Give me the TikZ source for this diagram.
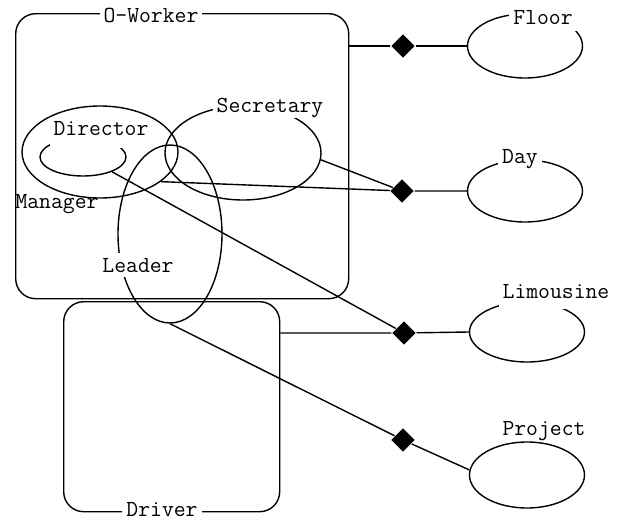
\documentclass[tikz,border=0pt]{standalone}
\usetikzlibrary{shapes.geometric}
\begin{document}
\begin{tikzpicture}[x=1pt,y=-1pt,
  line width=1.4pt,
  every node/.style={font=\ttfamily\fontsize{23}{25}\selectfont},
  setbox/.style={draw, rounded corners=20pt, inner sep=0pt, anchor=north west},
  role/.style={draw, ellipse, inner sep=0pt},
  tag/.style={fill=white, anchor=base, inner xsep=4pt, inner ysep=1pt, text height=15pt, text depth=5pt},
  plain/.style={anchor=base, inner sep=0pt},
  link/.style={diamond, fill=black, inner sep=0pt, minimum width=24pt, minimum height=24pt}]
\useasboundingbox (0,0) rectangle (625,522);

% entity sets drawn as rounded boxes
\node[setbox, minimum width=333pt, minimum height=285pt] (ow) at (15,13) {};
\node[setbox, minimum width=216pt, minimum height=210pt] (drv) at (63,301) {};

% subsets inside O-Worker
\node[role, minimum width=86pt, minimum height=38pt] (dir) at (83,157) {};
\node[tag, text depth=12pt] (dirlbl) at (101,135) {Director};
\node[role, minimum width=156pt, minimum height=92pt] (man) at (100,152) {};
\node[role, minimum width=156pt, minimum height=94pt] (sec) at (243,153) {};
\node[role, minimum width=104pt, minimum height=178pt] (lead) at (170,234) {};
\node[tag] (seclbl) at (270,112) {Secretary};
\node[tag, text height=18pt, text depth=4pt] (leadlbl) at (138,272) {Leader};
\node[plain] (manlbl) at (57,208) {Manager};
\node[tag] (owlbl) at (151,23) {O-Worker};
\node[tag, text height=14pt, text depth=1pt, inner ysep=0pt] (drvlbl) at (162,516) {Driver};

% value sets on the right
\node[role, minimum width=115pt, minimum height=64pt] (floor) at (525,46) {};
\node[role, minimum width=115pt, minimum height=62pt] (day) at (525,191) {};
\node[role, minimum width=115pt, minimum height=60pt] (limo) at (527,332) {};
\node[role, minimum width=115pt, minimum height=66pt] (proj) at (527,475) {};
\node[tag, text depth=6pt] (floorlbl) at (543,24) {Floor};
\node[tag] (daylbl) at (520,163) {Day};
\node[tag, text depth=10pt] (limolbl) at (556,298) {Limousine};
\node[plain] (projlbl) at (544,435) {Project};

% relationship diamonds
\node[link] (d1) at (403,46) {};
\node[link] (d2) at (402,191) {};
\node[link] (d3) at (404,333) {};
\node[link] (d4) at (403,440) {};

% connectors
\draw (ow.east |- d1) -- (d1) -- (floor.west);
\draw (sec.-5) -- (d2);
\draw (man.-26) -- (d2) -- (day.west);
\draw (dir.-27) -- (d3);
\draw (drv.east |- d3) -- (d3) -- (limo.west);
\draw (lead.south) -- (d4) -- (proj.175);
\end{tikzpicture}
\end{document}
